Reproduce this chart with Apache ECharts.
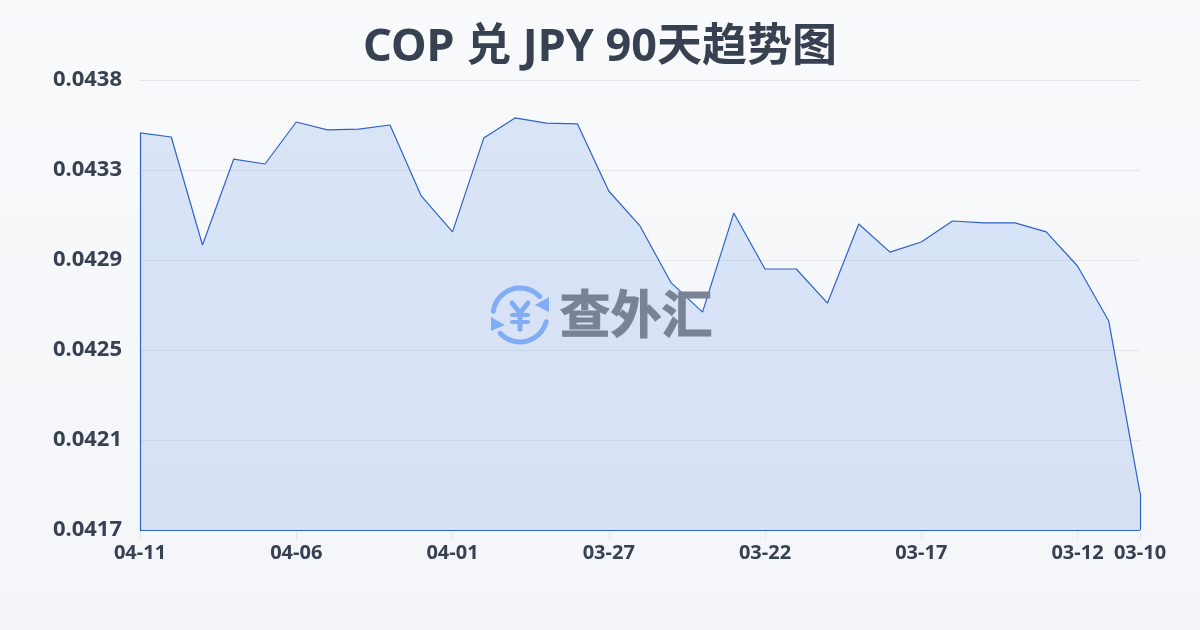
<!DOCTYPE html>
<html>
<head>
<meta charset="utf-8">
<title>COP 兑 JPY</title>
<style>
  html, body { margin: 0; padding: 0; background: #f5f7fa; }
  #chart { width: 1200px; height: 630px; }
</style>
<script src="https://cdn.jsdelivr.net/npm/echarts@6/dist/echarts.min.js"></script>
</head>
<body>
<div id="chart"></div>
<script>
var dates = ['04-11','04-10','04-09','04-08','04-07','04-06','04-05','04-04','04-03','04-02','04-01',
  '03-31','03-30','03-29','03-28','03-27','03-26','03-25','03-24','03-23','03-22',
  '03-21','03-20','03-19','03-18','03-17','03-16','03-15','03-14','03-13','03-12','03-11','03-10'];
var rates = [0.043553,0.043534,0.04303,0.043431,0.043408,0.043604,0.043567,0.043571,0.04359,0.043259,0.043091,
  0.043529,0.043623,0.043599,0.043595,0.043282,0.043119,0.042853,0.042717,0.043179,0.042918,
  0.042918,0.042759,0.043128,0.042997,0.043044,0.043142,0.043133,0.043133,0.043091,0.042932,0.042675,0.041873];
var tickValues = [0.0417,0.04212,0.04254,0.04296,0.04338,0.0438];
var tickLabels = ['0.0417','0.0421','0.0425','0.0429','0.0433','0.0438'];

var chart = echarts.init(document.getElementById('chart'));
var font = '"Noto Sans", "Noto Sans CJK SC", sans-serif';
var lineColor = '#2f62c8';
var iconColor = '#8ab4f8';
var last = dates.length - 1;
var yMin = tickValues[0];

function showTick(i) {
  return i % 5 === 0 || i === last;
}

var iconStroke = { stroke: iconColor, lineWidth: 5, fill: null, lineCap: 'round' };

var option = {
  animation: false,
  backgroundColor: new echarts.graphic.LinearGradient(0, 0, 0, 1, [
    { offset: 0, color: '#f9fafc' },
    { offset: 1, color: '#f3f5f8' }
  ]),
  title: {
    text: 'COP 兑 JPY 90天趋势图',
    left: 'center',
    top: 21,
    textStyle: { fontFamily: font, fontSize: 45, fontWeight: 'bold', color: '#374151' }
  },
  grid: { left: 140, right: 60, top: 80, bottom: 100 },
  xAxis: {
    type: 'category',
    boundaryGap: false,
    data: dates,
    axisLine: { show: false },
    axisTick: { show: true, interval: showTick, length: 10, lineStyle: { color: '#e5e7eb' } },
    axisLabel: {
      interval: showTick, margin: 13, fontFamily: font, fontSize: 20, fontWeight: 'bold', color: '#374151'
    }
  },
  yAxis: {
    type: 'value',
    min: yMin,
    max: tickValues[tickValues.length - 1],
    axisLine: { show: false },
    axisTick: { show: false, customValues: tickValues },
    splitLine: { show: true, lineStyle: { color: '#e5e7eb', width: 1 } },
    axisLabel: {
      customValues: tickValues,
      margin: 18,
      fontFamily: font,
      fontSize: 22,
      fontWeight: 'bold',
      color: '#374151',
      verticalAlign: 'middle',
      formatter: function (v) {
        return tickLabels[tickValues.indexOf(v)];
      }
    }
  },
  series: [{
    type: 'line',
    data: rates,
    symbol: 'none',
    smooth: false,
    lineStyle: { color: lineColor, width: 1.2 },
    areaStyle: { color: 'rgba(93,144,231,0.2)', opacity: 1 },
    markLine: {
      silent: true,
      symbol: 'none',
      label: { show: false },
      lineStyle: { color: lineColor, width: 1.2, type: 'solid' },
      data: [
        [{ coord: [0, yMin] }, { coord: [0, rates[0]] }],
        [{ coord: [last, yMin] }, { coord: [last, rates[last]] }],
        [{ coord: [0, yMin] }, { coord: [last, yMin] }]
      ]
    }
  }],
  graphic: [
    // 水印
    {
      type: 'group', x: 0, y: 0, silent: true, z: 100,
      children: [
        { type: 'arc', shape: { cx: 520, cy: 315, r: 27, startAngle: -3.0, endAngle: -0.75 }, style: iconStroke },
        { type: 'arc', shape: { cx: 520, cy: 315, r: 27, startAngle: 0.25, endAngle: 2.4 }, style: iconStroke },
        { type: 'polygon', shape: { points: [[549, 297], [549, 312], [535, 305]] }, style: { fill: iconColor } },
        { type: 'polygon', shape: { points: [[491, 317], [491, 331], [505, 325]] }, style: { fill: iconColor } },
        { type: 'polyline', shape: { points: [[512, 303], [520, 313], [528, 303]] }, style: iconStroke },
        { type: 'line', shape: { x1: 520, y1: 313, x2: 520, y2: 329 }, style: iconStroke },
        { type: 'line', shape: { x1: 512, y1: 315, x2: 528, y2: 315 }, style: { stroke: iconColor, lineWidth: 4, lineCap: 'round' } },
        { type: 'line', shape: { x1: 512, y1: 322, x2: 528, y2: 322 }, style: { stroke: iconColor, lineWidth: 4, lineCap: 'round' } }
      ]
    },
    {
      type: 'text', left: 559, top: 288, silent: true, z: 100,
      style: { text: '查外汇', font: 'bold 51px "Noto Sans CJK SC"', fill: '#7a8296', stroke: '#7a8296', lineWidth: 1 }
    }
  ]
};
chart.setOption(option);
</script>
</body>
</html>
